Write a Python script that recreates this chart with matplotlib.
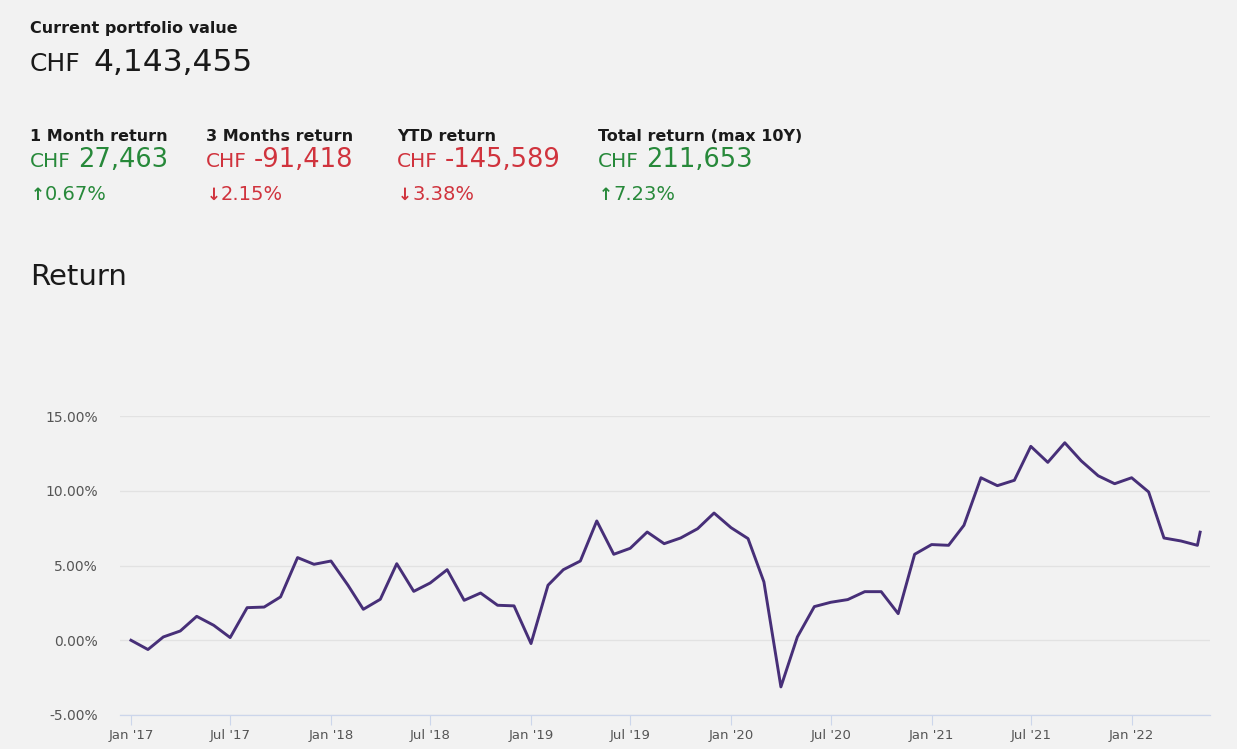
import pandas as pd
import matplotlib
matplotlib.use('Agg')
import matplotlib.pyplot as plt
import matplotlib.dates as mdates

# Monthly return (%), Jan 2017 .. May 2022, plus the latest value
returns_2017 = [0.00, -0.62, 0.22, 0.62, 1.60, 1.00, 0.18, 2.18, 2.22, 2.90, 5.53, 5.08]
returns_2018 = [5.30, 3.68, 2.07, 2.74, 5.12, 3.27, 3.83, 4.72, 2.67, 3.16, 2.34, 2.30]
returns_2019 = [-0.22, 3.68, 4.72, 5.30, 7.98, 5.75, 6.15, 7.24, 6.46, 6.84, 7.46, 8.51]
returns_2020 = [7.53, 6.80, 3.90, -3.12, 0.22, 2.25, 2.54, 2.72, 3.25, 3.25, 1.78, 5.75]
returns_2021 = [6.40, 6.35, 7.69, 10.87, 10.34, 10.70, 12.97, 11.90, 13.21, 12.00, 11.00, 10.47]
returns_2022 = [10.87, 9.92, 6.84, 6.64, 6.35]
latest_date = '2022-05-06'
latest_return = 7.23

# Header / KPI values
portfolio_value = '4,143,455'
kpi_labels = ['1 Month return', '3 Months return', 'YTD return', 'Total return (max 10Y)']
kpi_amounts = ['27,463', '-91,418', '-145,589', '211,653']
kpi_pcts = ['0.67%', '2.15%', '3.38%', '7.23%']
kpi_up = [True, False, False, True]
y_ticks = [-5, 0, 5, 10, 15]

values = returns_2017 + returns_2018 + returns_2019 + returns_2020 + returns_2021 + returns_2022
dates = list(pd.date_range('2017-01-01', periods=len(values), freq='MS'))
dates.append(pd.Timestamp(latest_date))
values.append(latest_return)

W, H = 1237, 749
BG = '#f2f2f2'
GREEN = '#27893a'
RED = '#d0333d'
DARK = '#1a1a1a'

plt.rcParams['font.family'] = ['DejaVu Sans']

fig = plt.figure(figsize=(W / 100, H / 100), dpi=100, facecolor=BG)


def put(x, y, s, **kw):
    # x, y in pixels from top-left, y is the text baseline
    fig.text(x / W, 1 - y / H, s, va='baseline', ha='left', **kw)


put(30, 33, 'Current portfolio value', fontsize=11.5, fontweight='bold', color=DARK)
put(30, 71, 'CHF', fontsize=18, color=DARK)
put(93, 71, portfolio_value, fontsize=22.5, color=DARK)

col_x = [30, 206, 397, 598]
for x, lab, amt, pct, up in zip(col_x, kpi_labels, kpi_amounts, kpi_pcts, kpi_up):
    c = GREEN if up else RED
    put(x, 141, lab, fontsize=11.5, fontweight='bold', color=DARK)
    put(x, 167, 'CHF', fontsize=14.5, color=c)
    put(x + 48, 167, amt, fontsize=18.5, color=c)
    arrow = '\u2191' if up else '\u2193'
    put(x + 1, 200, arrow, fontsize=12, color=c, fontweight='bold')
    put(x + 15, 200, pct, fontsize=14, color=c)

put(30, 285, 'Return', fontsize=21, color=DARK)

# Chart
ax = fig.add_axes([120 / W, 1 - 715 / H, 1090 / W, 299 / H])
ax.set_facecolor(BG)
ax.plot(dates, values, color='#472f78', lw=2.1, solid_joinstyle='round')

ax.set_ylim(-5, 15)
ax.set_xlim(pd.Timestamp('2016-12-12'), pd.Timestamp('2022-05-24'))
ax.set_yticks(y_ticks)
ax.set_yticklabels([f'{v:.2f}%' for v in y_ticks])
ax.grid(axis='y', color='#e2e2e2', lw=0.9)
ax.set_axisbelow(True)

for side in ['top', 'right', 'left']:
    ax.spines[side].set_visible(False)
ax.spines['bottom'].set_color('#ccd6eb')
ax.spines['bottom'].set_linewidth(0.9)

ax.xaxis.set_major_locator(mdates.MonthLocator(bymonth=[1, 7]))
ax.xaxis.set_major_formatter(mdates.DateFormatter("%b '%y"))
ax.tick_params(axis='x', length=7, width=0.8, color='#ccd6eb', labelcolor='#555555',
               labelsize=9.5, pad=3)
ax.tick_params(axis='y', length=0, pad=16, labelcolor='#555555', labelsize=10)

fig.savefig('out.png', dpi=100, facecolor=BG)
